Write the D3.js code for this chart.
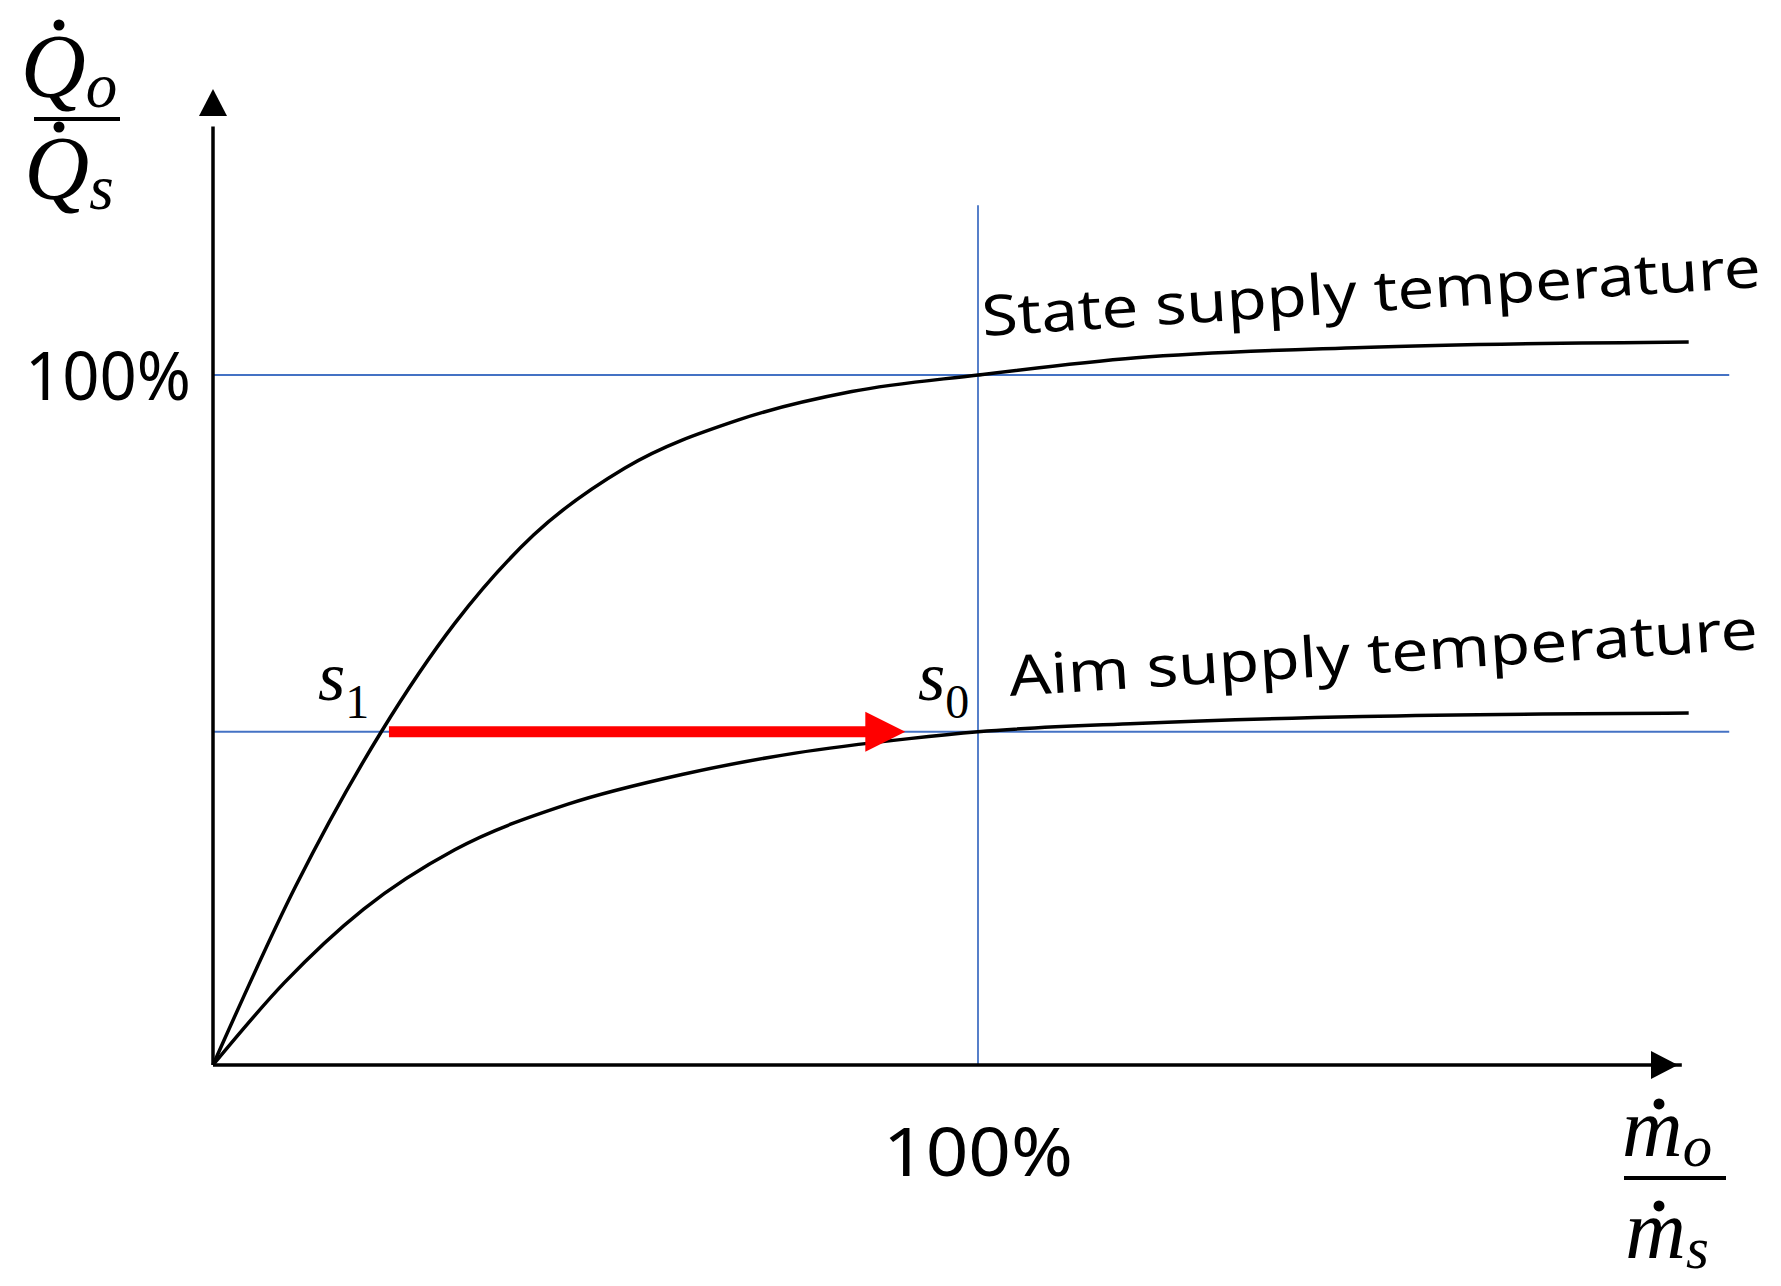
<!DOCTYPE html>
<html><head><meta charset="utf-8">
<script src="https://cdn.jsdelivr.net/npm/d3@7/dist/d3.min.js"></script>
<style>body{margin:0;background:#fff}</style></head>
<body><svg id="c" width="1781" height="1286"></svg>
<script>
const upperX=[0,0.108,0.22,0.316,0.419,0.538,0.687,0.835,1.0,1.207,1.503,1.929];
const upperY=[0,0.259,0.483,0.640,0.768,0.865,0.935,0.976,1.0,1.025,1.040,1.048];
const lowerX=[0,0.093,0.197,0.316,0.464,0.613,0.761,0.910,1.0,1.207,1.503,1.929];
const lowerY=[0,0.119,0.226,0.312,0.378,0.421,0.452,0.473,0.483,0.495,0.505,0.510];
const gridY=[1.0,0.483];
const gridX=[1.0];
const tickLabel="100%";
const arrowFrom=0.23, arrowTo=0.905, arrowLevel=0.483;

const svg=d3.select("#c");
const x=d3.scaleLinear().domain([0,1]).range([213,978]);
const y=d3.scaleLinear().domain([0,1]).range([1065,375]);
const blue="#4472C4";
gridY.forEach(v=>svg.append("line").attr("x1",x(0)).attr("x2",x(1.982)).attr("y1",y(v)).attr("y2",y(v)).attr("stroke",blue).attr("stroke-width",1.8));
gridX.forEach(v=>svg.append("line").attr("x1",x(v)).attr("x2",x(v)).attr("y1",y(0)).attr("y2",y(1.246)).attr("stroke",blue).attr("stroke-width",1.8));
svg.append("line").attr("x1",x(0)).attr("x2",x(1.92)).attr("y1",y(0)).attr("y2",y(0)).attr("stroke","#000").attr("stroke-width",3.5);
svg.append("line").attr("x1",x(0)).attr("x2",x(0)).attr("y1",y(0)).attr("y2",y(1.36)).attr("stroke","#000").attr("stroke-width",3.5);
const xe=1678, yt=89;
svg.append("path").attr("d",`M${xe},${y(0)} L${xe-27},${y(0)-14} L${xe-27},${y(0)+14}Z`).attr("fill","#000");
svg.append("path").attr("d",`M${x(0)},${yt} L${x(0)-14},${yt+27} L${x(0)+14},${yt+27}Z`).attr("fill","#000");
const line=d3.line().x(d=>x(d[0])).y(d=>y(d[1])).curve(d3.curveMonotoneX);
svg.append("path").attr("d",line(upperX.map((v,i)=>[v,upperY[i]]))).attr("fill","none").attr("stroke","#000").attr("stroke-width",3.5);
svg.append("path").attr("d",line(lowerX.map((v,i)=>[v,lowerY[i]]))).attr("fill","none").attr("stroke","#000").attr("stroke-width",3.5);
const ay=y(arrowLevel), tip=x(arrowTo);
svg.append("line").attr("x1",x(arrowFrom)).attr("x2",tip-38).attr("y1",ay).attr("y2",ay).attr("stroke","#FF0000").attr("stroke-width",11);
svg.append("path").attr("d",`M${tip},${ay} L${tip-40},${ay-20} L${tip-40},${ay+20}Z`).attr("fill","#FF0000");
svg.append("text").attr("x",191).attr("y",400).attr("text-anchor","end").attr("font-family","Noto Sans, sans-serif").attr("font-size",67).attr("textLength",166).attr("lengthAdjust","spacingAndGlyphs").text(tickLabel);
svg.append("text").attr("x",x(1)).attr("y",1176).attr("text-anchor","middle").attr("font-family","Noto Sans, sans-serif").attr("font-size",67).attr("textLength",190).attr("lengthAdjust","spacingAndGlyphs").text(tickLabel);
svg.append("text").attr("transform","translate(983,336) rotate(-3.6)").attr("font-family","Noto Sans, sans-serif").attr("font-size",56).attr("textLength",780).attr("lengthAdjust","spacingAndGlyphs").text("State supply temperature");
svg.append("text").attr("transform","translate(1010,696) rotate(-3.6)").attr("font-family","Noto Sans, sans-serif").attr("font-size",56).attr("textLength",750).attr("lengthAdjust","spacingAndGlyphs").text("Aim supply temperature");
const serif="Liberation Serif, DejaVu Serif, serif";
function sLabel(px,py,sub){const t=svg.append("text").attr("x",px).attr("y",py).attr("font-family",serif).attr("font-size",70);
 t.append("tspan").attr("font-style","italic").text("s");t.append("tspan").attr("font-size",48).attr("dy",18).text(sub);}
sLabel(318,700,"1");sLabel(918,700,"0");
function frac(cx,lineY,w,top,bot,topSub,botSub,fs){
 svg.append("line").attr("x1",cx-w/2).attr("x2",cx+w/2).attr("y1",lineY).attr("y2",lineY).attr("stroke","#000").attr("stroke-width",4);
 [[top,topSub,lineY-22],[bot,botSub,lineY+80]].forEach(([ch,sub,by])=>{
  const t=svg.append("text").attr("x",cx-8).attr("y",by).attr("text-anchor","middle").attr("font-family",serif).attr("font-style","italic").attr("font-size",fs);
  t.append("tspan").text(ch);t.append("tspan").attr("font-size",fs*0.7).attr("dy",10).text(sub);
  svg.append("circle").attr("cx",cx-8-(ch==="Q"?10:8)).attr("cy",by-(ch==="Q"?fs*0.8:fs*0.62)).attr("r",5.5).attr("fill","#000");
 });
}
frac(77,119,86,"Q","Q","o","s",90);
frac(1675,1178,102,"m","m","o","s",84);
</script></body></html>
